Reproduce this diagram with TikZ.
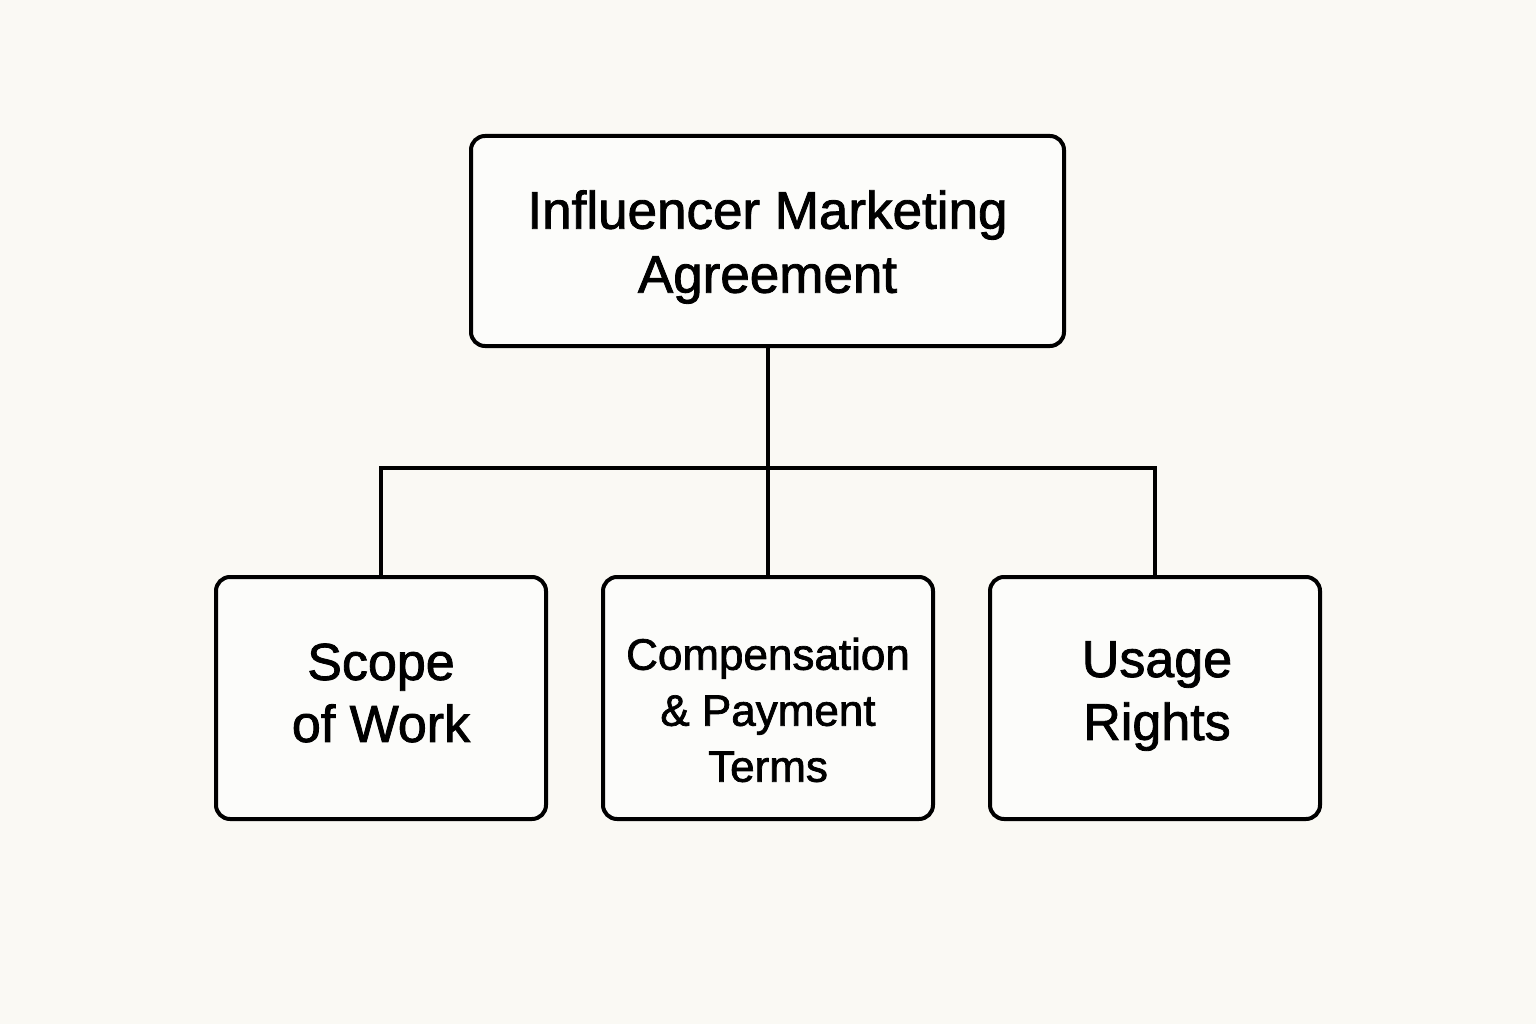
\documentclass[tikz,border=0pt]{standalone}
\usepackage{fontspec}
\setmainfont[FakeBold=1.6]{Liberation Sans}
\begin{document}
\begin{tikzpicture}[x=1pt,y=-1pt,
  box/.style={draw=black,line width=4pt,rounded corners=14pt,fill=white!50!bgc},
  conn/.style={draw=black,line width=4pt}]
\definecolor{bgc}{HTML}{FAF9F4}
\fill[bgc] (0,0) rectangle (1536,1024);
\useasboundingbox (0,0) rectangle (1536,1024);
\draw[box] (471,136) rectangle (1064,346);
\node (top) at (767.5,247) [align=center,font=\fontsize{53}{64}\selectfont] {Influencer Marketing\\Agreement};
\coordinate (topb) at (768,346);
\coordinate (j) at (768,468);
\draw[box] (216,577) rectangle (546,819);
\draw[box] (603,577) rectangle (933,819);
\draw[box] (990,577) rectangle (1320,819);
\coordinate (lt) at (381,577);
\coordinate (mt) at (768,577);
\coordinate (rt) at (1155,577);
\node (l) at (381,693) [align=center,font=\fontsize{52}{62}\selectfont] {Scope\\of Work};
\node (m) at (768,710) [align=center,font=\fontsize{44}{56}\selectfont] {Compensation\\\&\ Payment\\Terms};
\node (r) at (1157,696) [align=center,font=\fontsize{52}{63}\selectfont] {Usage\\Rights};
\draw[conn] (topb) -- (j);
\draw[conn] (lt) |- (j) -| (rt);
\draw[conn] (j) -- (mt);
\end{tikzpicture}
\end{document}
